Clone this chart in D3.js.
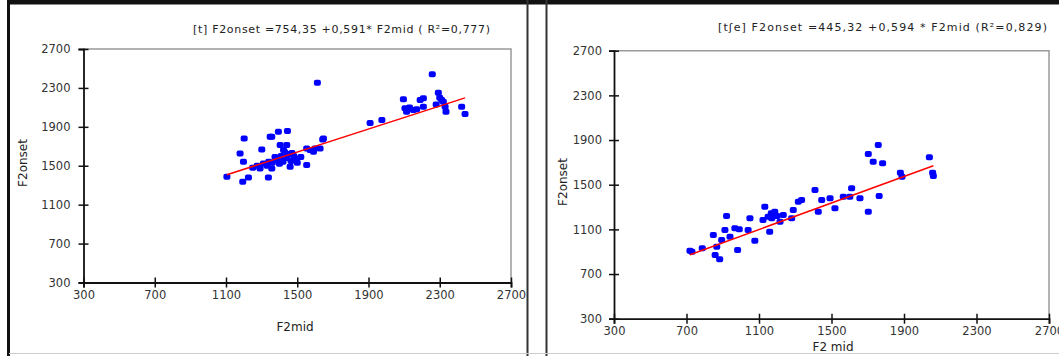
<!DOCTYPE html>
<html><head><meta charset="utf-8">
<script src="https://cdn.jsdelivr.net/npm/d3@7/dist/d3.min.js"></script>
<style>html,body{margin:0;padding:0;background:#fff;}svg{display:block;}</style>
</head><body>
<svg id="c" width="1059" height="356"></svg>
<script>
const ticks = [300, 700, 1100, 1500, 1900, 2300, 2700];

const leftTitle = "[t] F2onset =754,35 +0,591* F2mid ( R²=0,777)";
const leftCoef = [754.35, 0.591];
const leftX = [1105,1202,1179,1198,1194,1226,1338,1301,1357,1394,1445,1404,1423,1441,1291,1310,1357,1460,1553,1553,1591,1647,1628,1613,1348,1572,1600,1643,
  1390,1410,1420,1440,1450,1465,1480,1495,1430,1400,1470,1500,1520,1360,1375,1250,1275,1330,1340,
  1909,1975,2096,2105,2114,2152,2190,2208,2208,2130,2170,2258,2292,2311,2320,2335,2330,2423,2442,2280,2300];
const leftY = [1386,1781,1627,1541,1335,1380,1380,1668,1798,1849,1856,1712,1661,1712,1473,1524,1473,1489,1507,1678,1644,1781,1678,2353,1798,1661,1678,1771,
  1560,1600,1540,1580,1620,1550,1600,1570,1640,1520,1630,1530,1590,1530,1590,1480,1500,1500,1540,
  1940,1970,2183,2090,2055,2072,2175,2106,2193,2100,2080,2440,2250,2175,2158,2055,2106,2106,2031,2130,2200];

const rightTitle = "[tʃe] F2onset =445,32 +0,594 * F2mid (R²=0,829)";
const rightCoef = [445.32, 0.594];
const rightX = [719,730,787,848,867,858,883,912,921,894,940,967,991,982,1050,1040,1077,1132,1122,1150,1168,1187,1159,1234,1216,1289,1280,1200,1170,
  1317,1335,1409,1427,1446,1492,1519,1565,1601,1611,1657,1703,1703,1758,1730,1782,1763,1880,1889,2040,2058,2062];
const rightY = [909,900,930,1050,945,870,832,1094,1220,1005,1034,1110,1100,915,1199,1094,998,1303,1184,1213,1244,1258,1079,1229,1169,1273,1199,1220,1200,
  1348,1363,1452,1258,1363,1378,1289,1393,1393,1468,1378,1258,1775,1855,1706,1692,1399,1607,1572,1745,1607,1578];

const svg = d3.select("#c");
const font = "DejaVu Sans, sans-serif";

// frame
svg.append("rect").attr("x",7).attr("y",0).attr("width",1052).attr("height",4.5).attr("fill","#111");
svg.append("line").attr("x1",8.5).attr("x2",8.5).attr("y1",0).attr("y2",356).attr("stroke","#111").attr("stroke-width",3);
svg.append("line").attr("x1",527.5).attr("x2",527.5).attr("y1",0).attr("y2",356).attr("stroke","#333").attr("stroke-width",2);
svg.append("line").attr("x1",546.5).attr("x2",546.5).attr("y1",0).attr("y2",356).attr("stroke","#333").attr("stroke-width",2);
svg.append("line").attr("x1",9).attr("x2",1059).attr("y1",353.5).attr("y2",353.5).attr("stroke","#ccc").attr("stroke-width",1);

function panel(o) {
  const g = svg.append("g");
  const x = d3.scaleLinear().domain([300,2700]).range([o.x0,o.x1]);
  const y = d3.scaleLinear().domain([300,2700]).range([o.y0,o.y1]);
  g.append("path").attr("d",`M${o.x0},${o.y1}H${o.x1}V${o.y0}`).attr("fill","none").attr("stroke","#999").attr("stroke-width",1.5);
  const ya = g.append("g").attr("transform",`translate(${o.x0},0)`)
    .call(d3.axisLeft(y).tickValues(ticks).tickFormat(d3.format("d")).tickSizeOuter(0).tickSize(5).tickPadding(8));
  ya.select(".domain").attr("stroke","#111").attr("stroke-width",1.8);
  ya.selectAll(".tick line").attr("x2",5).attr("x1",-5).attr("stroke","#111").attr("stroke-width",1.5);
  ya.selectAll(".tick text").attr("font-family",font).attr("font-size",11.5).attr("fill","#333").attr("x",o.ylx);
  const xa = g.append("g").attr("transform",`translate(0,${o.y0})`)
    .call(d3.axisBottom(x).tickValues(ticks).tickFormat(d3.format("d")).tickSizeOuter(0).tickSize(5));
  xa.select(".domain").attr("stroke","#111").attr("stroke-width",1.8);
  xa.selectAll(".tick line").attr("y1",-5).attr("y2",5).attr("stroke","#111").attr("stroke-width",1.5);
  xa.selectAll(".tick text").attr("font-family",font).attr("font-size",11.5).attr("fill","#333").attr("y",o.xly).attr("dy",0);
  const pts = o.xs.map((v,i)=>[v,o.ys[i]]);
  g.append("g").selectAll("rect").data(pts).join("rect")
    .attr("x",d=>x(d[0])-3.5).attr("y",d=>y(d[1])-3).attr("width",7).attr("height",6).attr("rx",2)
    .attr("fill","#0000ff");
  const ext = d3.extent(o.xs);
  g.append("line").attr("x1",x(ext[0])).attr("y1",y(o.coef[0]+o.coef[1]*ext[0]))
    .attr("x2",x(ext[1])).attr("y2",y(o.coef[0]+o.coef[1]*ext[1]))
    .attr("stroke","#ff0000").attr("stroke-width",1.5);
  g.append("text").attr("x",o.tx).attr("y",o.ty).attr("font-family",font).attr("font-size",11)
    .attr("fill","#222").attr("textLength",o.tw).text(o.title);
  g.append("text").attr("transform",`translate(${o.yLabX},${o.yLabY}) rotate(-90)`).attr("text-anchor","middle")
    .attr("font-family",font).attr("font-size",12).attr("fill","#222").text("F2onset");
  g.append("text").attr("x",o.xLabX).attr("y",o.xLabY).attr("text-anchor","middle")
    .attr("font-family",font).attr("font-size",12).attr("fill","#222").text(o.xLab);
}

panel({x0:83.5,x1:511,y0:282.5,y1:49,ylx:-13,xly:16,xs:leftX,ys:leftY,coef:leftCoef,
  title:leftTitle,tx:193,ty:33,tw:297,yLabX:27,yLabY:163,xLabX:295,xLabY:331,xLab:"F2mid"});
panel({x0:614,x1:1049,y0:318.7,y1:50.7,ylx:-12,xly:16,xs:rightX,ys:rightY,coef:rightCoef,
  title:rightTitle,tx:718,ty:31,tw:329,yLabX:567,yLabY:182,xLabX:833,xLabY:351,xLab:"F2 mid"});
</script>
</body></html>
